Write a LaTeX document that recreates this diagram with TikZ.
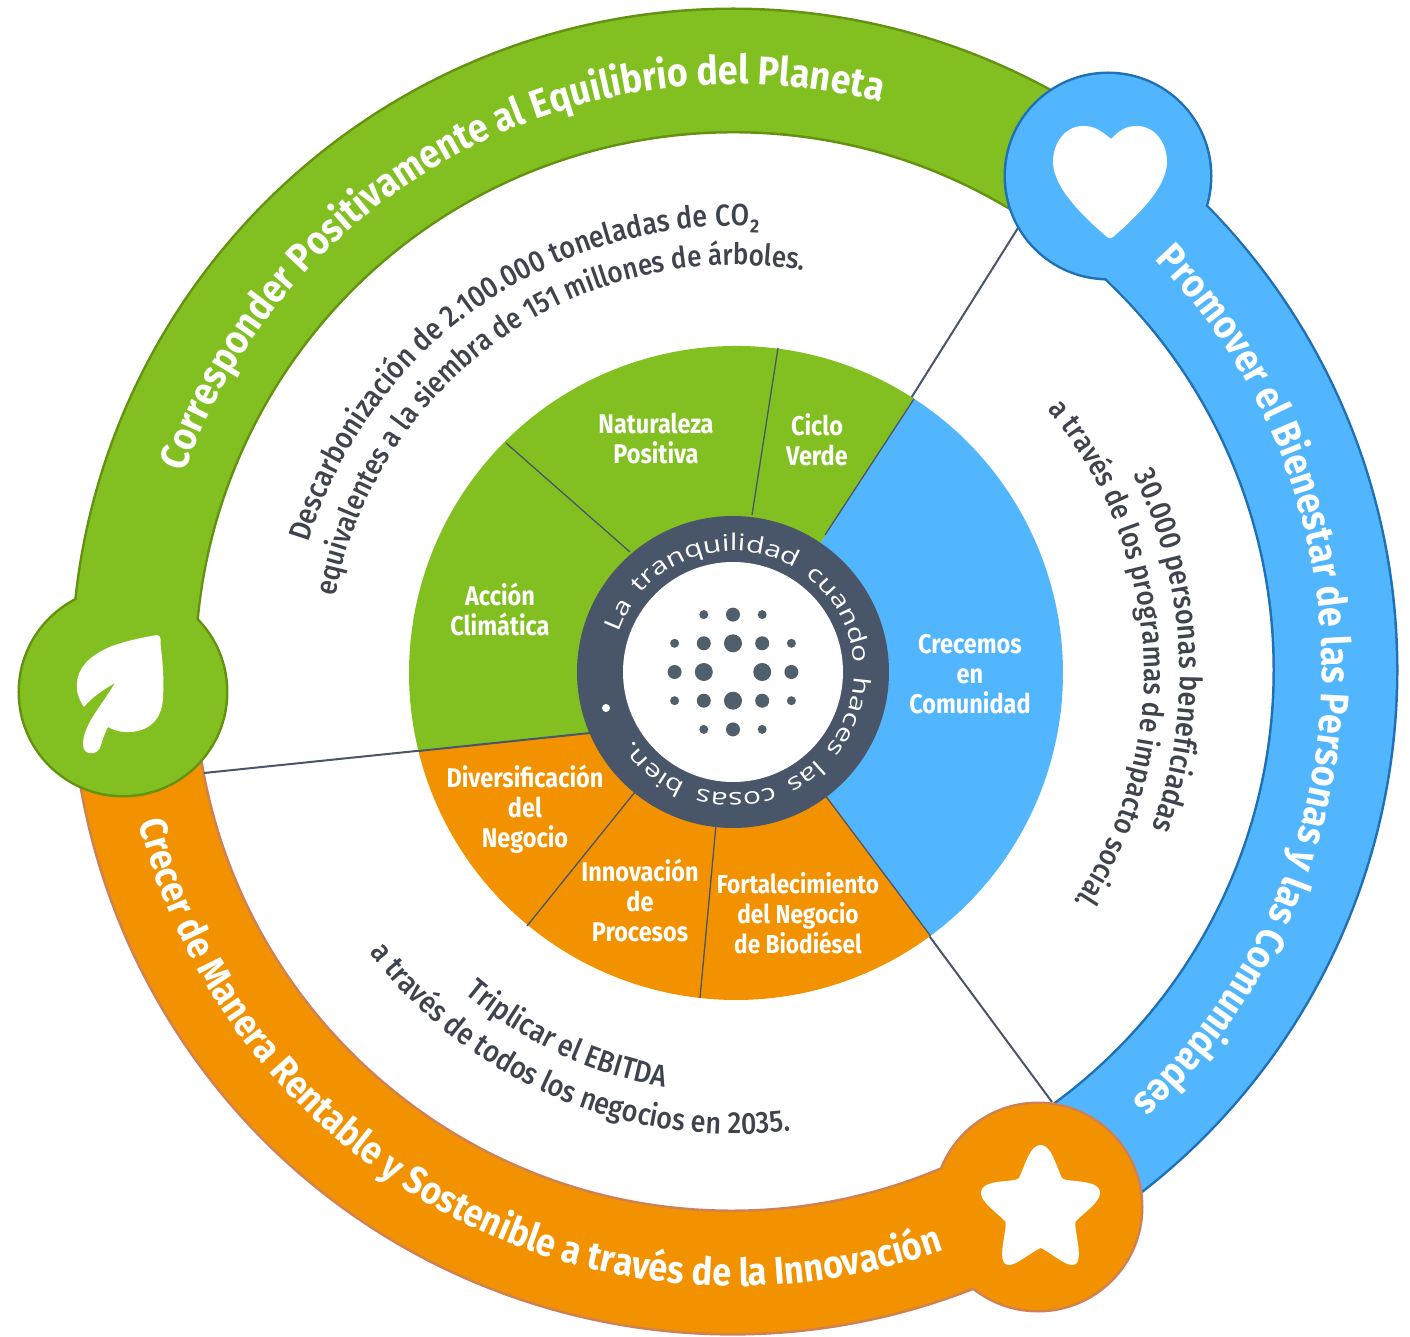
\documentclass[tikz,border=0pt]{standalone}
\usepackage{fontspec}
\usetikzlibrary{decorations.text}
\newfontfamily\bandfont[FakeStretch=0.89]{Fira Sans}
\newfontfamily\wedgefont[FakeStretch=0.87]{Fira Sans}
\newfontfamily\notefont[FakeStretch=0.88]{Fira Sans Medium}
\newfontfamily\ringfont[FakeStretch=1.3,LetterSpace=58,WordSpace=0.6]{Open Sans}
\definecolor{softgreen}{RGB}{130,192,33}
\definecolor{softblue}{RGB}{82,182,255}
\definecolor{softorange}{RGB}{243,146,0}
\definecolor{greenedge}{RGB}{100,146,16}
\definecolor{blueedge}{RGB}{32,112,182}
\definecolor{orangeedge}{RGB}{207,128,85}
\definecolor{slateink}{RGB}{73,85,105}
\definecolor{dotink}{RGB}{79,95,108}
\definecolor{textink}{RGB}{62,68,78}
\newcommand{\ringseg}[2]{(#1:660) arc[start angle=#1,end angle=#2,radius=660] -- (#2:539) arc[start angle=#2,end angle=#1,radius=539] -- cycle}
\tikzset{
  pixel/.style={shift={(-736,673)},y=-1pt},
  divider/.style={draw=slateink,line width=1.3},
  wedgelabel/.style={text=white,align=center,font=\wedgefont\bfseries\fontsize{27}{30}\selectfont},
  bandtext/.style={decorate,decoration={text along path,text align=center,
    text={|\bandfont\bfseries\fontsize{40}{40}\selectfont\color{white}|#1}}},
  lowtext/.style={decorate,decoration={text along path,text align=center,
    text={|\bandfont\bfseries\fontsize{38.6}{38.6}\selectfont\color{white}|#1}}},
  notetext/.style={decorate,decoration={text along path,text align=center,
    text={|\notefont\fontsize{30.5}{30.5}\selectfont\color{textink}|#1}}},
  smallnote/.style={decorate,decoration={text along path,text align=center,
    text={|\notefont\fontsize{29.6}{29.6}\selectfont\color{textink}|#1}}},
}
\begin{document}
\begin{tikzpicture}[x=1pt,y=1pt]
\useasboundingbox (-736,-663) rectangle (674,673);
% Outer bands
\begin{scope}[shift={(-3,3)}]
\draw[line width=5,draw=greenedge] \ringseg{182}{53};
\fill[softgreen] \ringseg{182}{53};
\end{scope}
\begin{scope}[yshift=3pt]
\draw[line width=5,draw=blueedge] \ringseg{53}{-60};
\fill[softblue] \ringseg{53}{-60};
\end{scope}
\begin{scope}[shift={(-4,0)}]
\draw[line width=5,draw=orangeedge] \ringseg{-60}{-178};
\fill[softorange] \ringseg{-60}{-178};
\end{scope}
% Connectors
\begin{scope}[pixel]
\coordinate (bluefoot) at (1018,228);
\coordinate (orangefoot) at (1052,1102);
\coordinate (greenfoot) at (204,773);
\coordinate (bluetop) at (825,535);
\coordinate (bluelow) at (825,795);
\coordinate (greenlow) at (590,733);
\draw[slateink,line width=2] (bluefoot) -- (bluetop);
\draw[slateink,line width=2] (orangefoot) -- (bluelow);
\draw[slateink,line width=2] (greenfoot) -- (greenlow);
\end{scope}
% Circles
\begin{scope}[pixel]
\coordinate (leafc) at (123,692);
\coordinate (heartc) at (1108,176);
\coordinate (starc) at (1038,1207);
\draw[line width=5,draw=greenedge] (leafc) circle[radius=103];
\fill[softgreen] (leafc) circle[radius=103];
\draw[line width=5,draw=blueedge] (heartc) circle[radius=102];
\fill[softblue] (heartc) circle[radius=102];
\draw[line width=5,draw=orangeedge] (starc) circle[radius=103];
\fill[softorange] (starc) circle[radius=103];
\end{scope}
% Band joints
\begin{scope}[shift={(-3,3)}]
\fill[softgreen] \ringseg{182}{168};
\end{scope}
\begin{scope}[yshift=3pt]
\fill[softblue] \ringseg{53}{40};
\end{scope}
\begin{scope}[shift={(-4,0)}]
\fill[softorange] \ringseg{-60}{-74};
\end{scope}
% Icons
\begin{scope}[pixel]
\fill[white] (1110,138) .. controls (1100,130) and (1094,126) .. (1083,126)
  .. controls (1066,126) and (1053,142) .. (1053,162)
  .. controls (1053,188) and (1085,218) .. (1107,237)
  .. controls (1109,239) and (1111,239) .. (1113,237)
  .. controls (1135,218) and (1167,188) .. (1167,162)
  .. controls (1167,142) and (1154,126) .. (1137,126)
  .. controls (1126,126) and (1120,130) .. (1112,138)
  .. controls (1111,139) and (1111,139) .. (1110,138) -- cycle;
\fill[white] (157,635) .. controls (162,636) and (160,640) .. (161,648)
  .. controls (163,665) and (164,680) .. (163,698)
  .. controls (162,722) and (146,733) .. (125,732)
  .. controls (118,732) and (112,729) .. (108,727)
  .. controls (105,733) and (103,738) .. (101,745)
  .. controls (99,756) and (83,756) .. (83,745)
  .. controls (83,725) and (100,708) .. (115,683)
  .. controls (103,690) and (92,697) .. (84,707)
  .. controls (78,698) and (76,690) .. (77,683)
  .. controls (78,665) and (95,652) .. (115,645)
  .. controls (130,640) and (145,637) .. (157,635) -- cycle;
\fill[white] (1040.7,1145) .. controls (1051,1145) and (1055,1163) .. (1062,1178)
  .. controls (1065,1183) and (1100,1178) .. (1100,1193)
  .. controls (1100,1202) and (1085,1212) .. (1076,1221)
  .. controls (1072,1226) and (1087,1265) .. (1072,1265)
  .. controls (1064,1265) and (1050,1252) .. (1040.7,1248)
  .. controls (1031,1252) and (1017,1265) .. (1009,1265)
  .. controls (994,1265) and (1009,1226) .. (1005,1221)
  .. controls (996,1212) and (981,1202) .. (981,1193)
  .. controls (981,1178) and (1016,1183) .. (1019,1178)
  .. controls (1026,1163) and (1030,1145) .. (1040.7,1145) -- cycle;
\end{scope}
% Band labels
\begin{scope}[yshift=3pt]
\path[bandtext={Corresponder Positivamente al Equilibrio del Planeta}] (175:586) arc[start angle=175,end angle=61,radius=586];
\path[bandtext={Promover el Bienestar de las Personas y las Comunidades}] (60:586) arc[start angle=60,end angle=-63,radius=586];
\path[lowtext={Crecer de Manera Rentable y Sostenible a través de la Innovación}] (182:616) arc[start angle=182,end angle=302,radius=616];
\end{scope}
% Notes
\path[notetext={Descarbonización de 2.100.000 toneladas de CO₂}] (178:447) arc[start angle=178,end angle=72,radius=447];
\path[smallnote={equivalentes a la siembra de 151 millones de árboles.}] (184.8:408) arc[start angle=184.8,end angle=64.8,radius=408];
\path[notetext={30.000 personas beneficiadas}] (45:444) arc[start angle=45,end angle=-39,radius=444];
\path[smallnote={a través de los programas de impacto social.}] (64:408) arc[start angle=64,end angle=-58,radius=408];
\path[notetext={Triplicar el EBITDA}] (215:420) arc[start angle=215,end angle=275,radius=420];
\path[notetext={a través de todos los negocios en 2035.}] (200.6:461) arc[start angle=200.6,end angle=293.6,radius=461];
% Wedges
\coordinate (bluerim) at (57:327);
\coordinate (orangerim) at (-53.5:327);
\coordinate (greenrim) at (193.8:327);
\fill[softorange] (greenlow) -- (greenrim) arc[start angle=193.8,end angle=306.5,radius=327] -- (0,0) -- cycle;
\fill[softblue] (0,0) -- (bluerim) arc[start angle=57,end angle=-53.5,radius=327] -- cycle;
\fill[softgreen] (0,0) -- (bluerim) arc[start angle=57,end angle=193.8,radius=327] -- (greenlow) -- cycle;
\draw[divider] (bluetop) -- (bluerim);
\draw[divider] (bluelow) -- (orangerim);
\draw[slateink,line width=2] (greenlow) -- (greenrim);
\begin{scope}[pixel]
\coordinate (natfoot) at (630,552);
\coordinate (cicfoot) at (752,515);
\coordinate (divfoot) at (635,792);
\coordinate (innfoot) at (716,825);
\coordinate (natrim) at (506,443);
\coordinate (cicrim) at (778,348);
\coordinate (divrim) at (527,926);
\coordinate (innrim) at (700,998);
\draw[divider] (natfoot) -- (natrim);
\draw[divider] (cicfoot) -- (cicrim);
\draw[divider] (divfoot) -- (divrim);
\draw[divider] (innfoot) -- (innrim);
\node[wedgelabel] (naturaleza) at (656,438) {Naturaleza\\Positiva};
\node[wedgelabel] (ciclo) at (817,440) {Ciclo\\Verde};
\node[wedgelabel] (accion) at (500,609) {Acción\\Climática};
\node[wedgelabel] (crecemos) at (970,674) {Crecemos\\en\\Comunidad};
\node[wedgelabel] (diversificacion) at (525,809) {Diversificación\\del\\Negocio};
\node[wedgelabel] (innovacion) at (640,900) {Innovación\\de\\Procesos};
\node[wedgelabel,font=\wedgefont\bfseries\fontsize{26}{30}\selectfont] (fortalecimiento) at (798,913) {Fortalecimiento\\del Negocio\\de Biodiésel};
\end{scope}
% Hub
\begin{scope}[pixel]
\coordinate (hub) at (733,672);
\fill[slateink] (hub) circle[radius=156];
\fill[white] (hub) circle[radius=110];
\fill[white] (606,708) circle[radius=4];
\foreach \row/\col/\rad in {-2/-1/4.5,-2/0/7,-2/1/4.5,
  -1/-2/4.5,-1/-1/7,-1/0/9,-1/1/7,-1/2/4.5,
  0/-2/7,0/-1/9,0/1/9,0/2/7,
  1/-2/4.5,1/-1/7,1/0/9,1/1/7,1/2/4.5,
  2/-1/4.5,2/0/7,2/1/4.5}
  \fill[dotink] (733+29.2*\col,672+28.7*\row) circle[radius=\rad];
\end{scope}
\begin{scope}[xshift=-3pt,yshift=1pt]
\path[decorate,decoration={text along path,
  text={|\ringfont\fontsize{23}{23}\selectfont\color{white}|La tranquilidad cuando haces las cosas bien.}}]
  (161:121) arc[start angle=161,end angle=-170,radius=121];
\end{scope}
\end{tikzpicture}
\end{document}
